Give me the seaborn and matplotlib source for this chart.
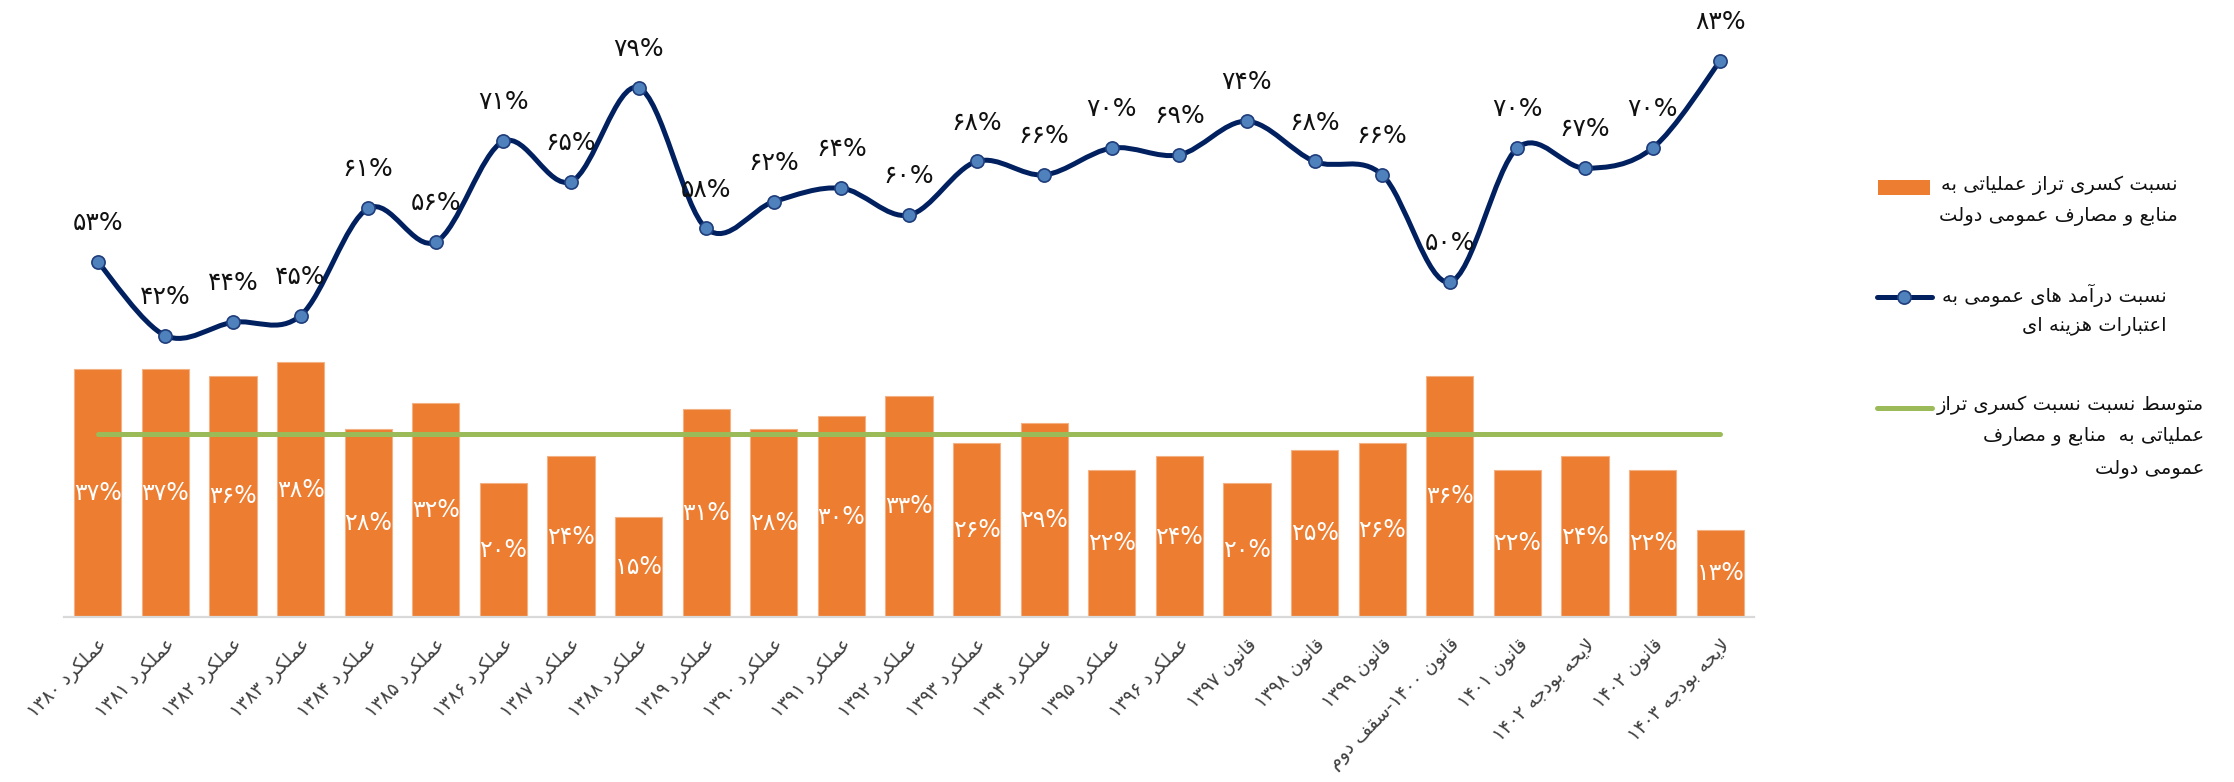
import re

import matplotlib

matplotlib.use("Agg")
import matplotlib.pyplot as plt
import matplotlib.transforms as mtransforms
import seaborn as sns
from matplotlib.lines import Line2D
from matplotlib.patches import PathPatch, Rectangle
from matplotlib.path import Path

sns.set_style("white")
plt.rcParams["font.family"] = ["DejaVu Sans"]

# داده‌ها
categories = [
    "عملکرد ۱۳۸۰", "عملکرد ۱۳۸۱", "عملکرد ۱۳۸۲", "عملکرد ۱۳۸۳", "عملکرد ۱۳۸۴",
    "عملکرد ۱۳۸۵", "عملکرد ۱۳۸۶", "عملکرد ۱۳۸۷", "عملکرد ۱۳۸۸", "عملکرد ۱۳۸۹",
    "عملکرد ۱۳۹۰", "عملکرد ۱۳۹۱", "عملکرد ۱۳۹۲", "عملکرد ۱۳۹۳", "عملکرد ۱۳۹۴",
    "عملکرد ۱۳۹۵", "عملکرد ۱۳۹۶", "قانون ۱۳۹۷", "قانون ۱۳۹۸", "قانون ۱۳۹۹",
    "قانون ۱۴۰۰-سقف دوم", "قانون ۱۴۰۱", "لایحه بودجه ۱۴۰۲", "قانون ۱۴۰۲",
    "لایحه بودجه ۱۴۰۳",
]
deficit_ratio = [37, 37, 36, 38, 28, 32, 20, 24, 15, 31, 28, 30, 33, 26, 29,
                 22, 24, 20, 25, 26, 36, 22, 24, 22, 13]
revenue_ratio = [53, 42, 44, 45, 61, 56, 71, 65, 79, 58, 62, 64, 60, 68, 66,
                 70, 69, 74, 68, 66, 50, 70, 67, 70, 83]
deficit_avg = 27.3

legend_bar = ["نسبت کسری تراز عملیاتی به", "منابع و مصارف عمومی دولت"]
legend_line = ["نسبت درآمد های عمومی به", "اعتبارات هزینه ای"]
legend_avg = ["متوسط نسبت نسبت کسری تراز", "عملیاتی به  منابع و مصارف", "عمومی دولت"]

ORANGE = "#ED7D31"
NAVY = "#002060"
MARKER = "#4F81BD"
GREEN = "#9BBB59"

# شکل‌دهی حروف فارسی (matplotlib خودش اتصال حروف و راست‌به‌چپ را انجام نمی‌دهد)
FORMS = {
    "ا": (0xFE8D, 0xFE8E, None, None), "آ": (0xFE81, 0xFE82, None, None),
    "ب": (0xFE8F, 0xFE90, 0xFE91, 0xFE92), "پ": (0xFB56, 0xFB57, 0xFB58, 0xFB59),
    "ت": (0xFE95, 0xFE96, 0xFE97, 0xFE98), "ث": (0xFE99, 0xFE9A, 0xFE9B, 0xFE9C),
    "ج": (0xFE9D, 0xFE9E, 0xFE9F, 0xFEA0), "چ": (0xFB7A, 0xFB7B, 0xFB7C, 0xFB7D),
    "ح": (0xFEA1, 0xFEA2, 0xFEA3, 0xFEA4), "خ": (0xFEA5, 0xFEA6, 0xFEA7, 0xFEA8),
    "د": (0xFEA9, 0xFEAA, None, None), "ذ": (0xFEAB, 0xFEAC, None, None),
    "ر": (0xFEAD, 0xFEAE, None, None), "ز": (0xFEAF, 0xFEB0, None, None),
    "ژ": (0xFB8A, 0xFB8B, None, None),
    "س": (0xFEB1, 0xFEB2, 0xFEB3, 0xFEB4), "ش": (0xFEB5, 0xFEB6, 0xFEB7, 0xFEB8),
    "ص": (0xFEB9, 0xFEBA, 0xFEBB, 0xFEBC), "ض": (0xFEBD, 0xFEBE, 0xFEBF, 0xFEC0),
    "ط": (0xFEC1, 0xFEC2, 0xFEC3, 0xFEC4), "ظ": (0xFEC5, 0xFEC6, 0xFEC7, 0xFEC8),
    "ع": (0xFEC9, 0xFECA, 0xFECB, 0xFECC), "غ": (0xFECD, 0xFECE, 0xFECF, 0xFED0),
    "ف": (0xFED1, 0xFED2, 0xFED3, 0xFED4), "ق": (0xFED5, 0xFED6, 0xFED7, 0xFED8),
    "ک": (0xFB8E, 0xFB8F, 0xFB90, 0xFB91), "گ": (0xFB92, 0xFB93, 0xFB94, 0xFB95),
    "ل": (0xFEDD, 0xFEDE, 0xFEDF, 0xFEE0), "م": (0xFEE1, 0xFEE2, 0xFEE3, 0xFEE4),
    "ن": (0xFEE5, 0xFEE6, 0xFEE7, 0xFEE8), "و": (0xFEED, 0xFEEE, None, None),
    "ه": (0xFEE9, 0xFEEA, 0xFEEB, 0xFEEC), "ی": (0xFBFC, 0xFBFD, 0xFBFE, 0xFBFF),
}
LAM_ALEF = {"ا": (0xFEFB, 0xFEFC), "آ": (0xFEF5, 0xFEF6)}


def joins_next(c):
    return c in FORMS and FORMS[c][2] is not None


def fa(text):
    out = []
    n = len(text)
    i = 0
    while i < n:
        c = text[i]
        if c not in FORMS:
            out.append(c)
            i += 1
            continue
        link_prev = i > 0 and joins_next(text[i - 1])
        if c == "ل" and i + 1 < n and text[i + 1] in LAM_ALEF:
            out.append(chr(LAM_ALEF[text[i + 1]][1 if link_prev else 0]))
            i += 2
            continue
        link_next = joins_next(c) and i + 1 < n and text[i + 1] in FORMS
        f = FORMS[c]
        if link_prev and link_next:
            code = f[3]
        elif link_prev:
            code = f[1]
        elif link_next:
            code = f[2]
        else:
            code = f[0]
        out.append(chr(code))
        i += 1
    s = "".join(out)[::-1]
    return re.sub(r"[0-9۰-۹]+", lambda m: m.group(0)[::-1], s)


def fa_pct(v):
    return f"{v}%".translate(str.maketrans("0123456789", "۰۱۲۳۴۵۶۷۸۹"))


W, H = 2234, 782
fig = plt.figure(figsize=(W / 100, H / 100), dpi=100)
ax = fig.add_axes([64 / W, 1 - 617 / H, (1754 - 64) / W, 617 / H])

sns.barplot(x=categories, y=deficit_ratio, color=ORANGE, saturation=1,
            width=0.7, edgecolor="#F4B183", linewidth=0.8, ax=ax, zorder=2)
ax.bar_label(ax.containers[0], labels=[fa_pct(v) for v in deficit_ratio],
             label_type="center", color="white", fontsize=17)

x_pos = list(range(len(categories)))

# خط میانگین
ax.plot([x_pos[0], x_pos[-1]], [deficit_avg, deficit_avg], color=GREEN, lw=3.6,
        solid_capstyle="round", zorder=3)

# خط نرم (بزیه مانند اکسل)
verts = [(x_pos[0], revenue_ratio[0])]
codes = [Path.MOVETO]
n = len(x_pos)
for k in range(n - 1):
    p0 = (x_pos[max(k - 1, 0)], revenue_ratio[max(k - 1, 0)])
    p1 = (x_pos[k], revenue_ratio[k])
    p2 = (x_pos[k + 1], revenue_ratio[k + 1])
    p3 = (x_pos[min(k + 2, n - 1)], revenue_ratio[min(k + 2, n - 1)])
    c1 = (p1[0] + (p2[0] - p0[0]) / 6, p1[1] + (p2[1] - p0[1]) / 6)
    c2 = (p2[0] - (p3[0] - p1[0]) / 6, p2[1] - (p3[1] - p1[1]) / 6)
    verts += [c1, c2, p2]
    codes += [Path.CURVE4] * 3
ax.add_patch(PathPatch(Path(verts, codes), fill=False, edgecolor=NAVY, lw=3.6,
                       capstyle="round", joinstyle="round", zorder=4))
ax.plot(x_pos, revenue_ratio, linestyle="none", marker="o", markersize=9.5,
        markerfacecolor=MARKER, markeredgecolor="#1F3D7A", markeredgewidth=1.2, zorder=5)
for x, v in zip(x_pos, revenue_ratio):
    ax.annotate(fa_pct(v), (x, v), xytext=(0, 28), textcoords="offset points",
                ha="center", va="center", fontsize=18, color="#111111", zorder=6)

ax.set_xlim(-0.5, len(categories) - 0.5)
ax.set_ylim(0, 92.1)
ax.set_yticks([])
ax.set_xlabel("")
ax.set_ylabel("")
for side in ["top", "left", "right"]:
    ax.spines[side].set_visible(False)
ax.spines["bottom"].set_color("#D9D9D9")
ax.spines["bottom"].set_linewidth(1.6)
ax.set_xticks(x_pos)
ax.set_xticklabels([fa(c) for c in categories], rotation=45, ha="right",
                   va="center", rotation_mode="anchor", fontsize=13.5, color="#404040")
ax.tick_params(axis="x", length=0, pad=18)
shift = mtransforms.ScaledTranslation(5 / 72, 0, fig.dpi_scale_trans)
for lab in ax.get_xticklabels():
    lab.set_transform(lab.get_transform() + shift)


# راهنما
def fx(px):
    return px / W


def fy(py):
    return 1 - py / H


fig.add_artist(Rectangle((fx(1878), fy(195)), fx(1930) - fx(1878), fy(180) - fy(195),
                         facecolor=ORANGE, edgecolor="none", transform=fig.transFigure))
fig.add_artist(Line2D([fx(1877), fx(1932)], [fy(297), fy(297)], color=NAVY, lw=3.6,
                      solid_capstyle="round", transform=fig.transFigure))
fig.add_artist(Line2D([fx(1904)], [fy(297)], marker="o", markersize=9.5,
                      markerfacecolor=MARKER, markeredgecolor="#1F3D7A",
                      markeredgewidth=1.2, transform=fig.transFigure))
fig.add_artist(Line2D([fx(1877), fx(1932)], [fy(408), fy(408)], color=GREEN, lw=3.6,
                      solid_capstyle="round", transform=fig.transFigure))

for lines, right, ys in [
    (legend_bar, 2178, [185, 217]),
    (legend_line, 2167, [295, 327]),
    (legend_avg, 2204, [405, 437, 468]),
]:
    for txt, y in zip(lines, ys):
        fig.text(fx(right), fy(y), fa(txt), ha="right", va="center", fontsize=14,
                 color="#111111")

fig.savefig("out.png", dpi=100)
